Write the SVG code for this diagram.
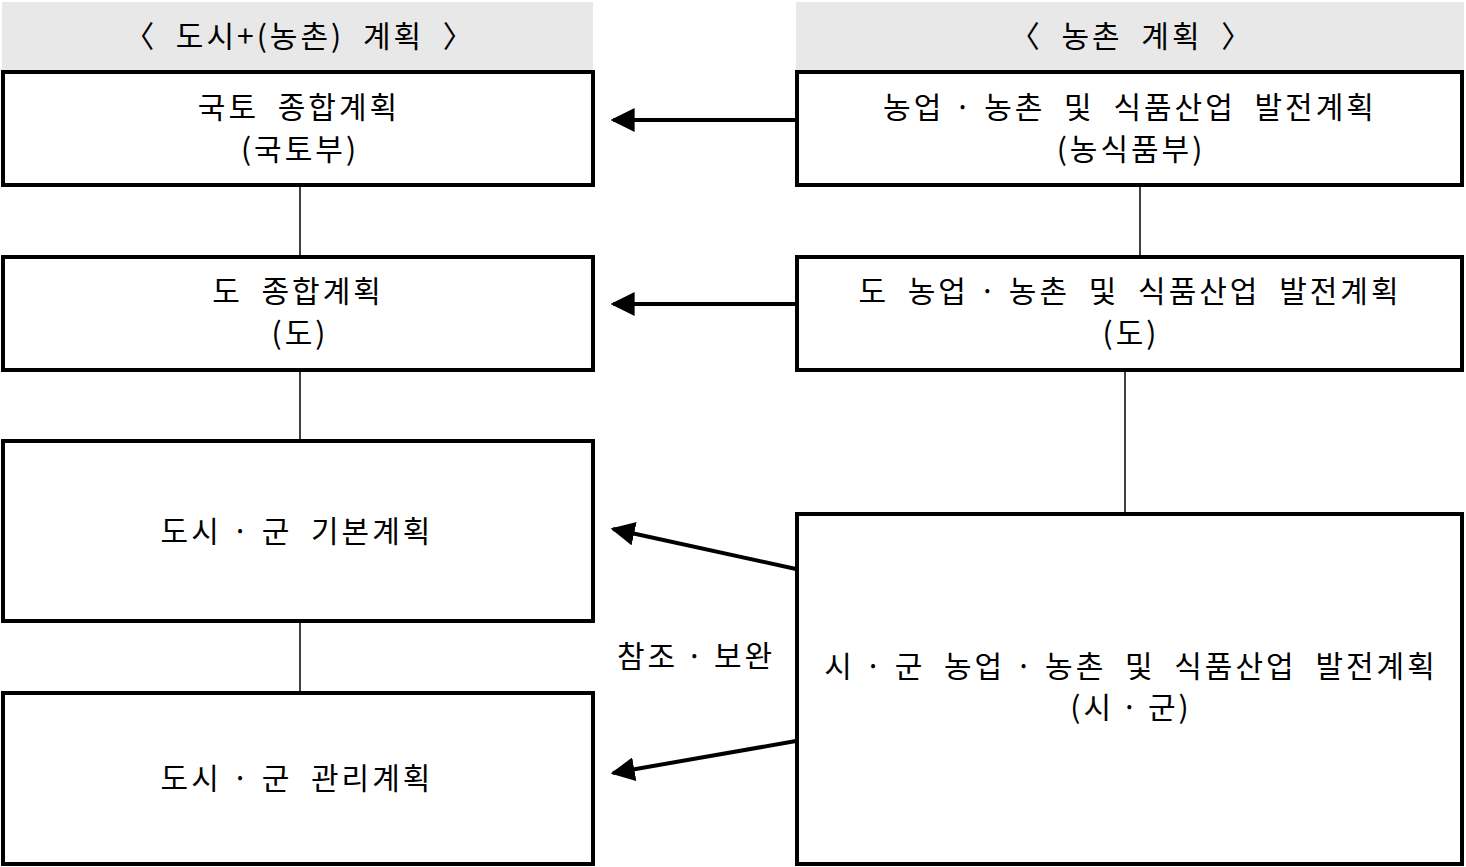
<svg xmlns="http://www.w3.org/2000/svg" width="1466" height="867" viewBox="0 0 1466 867">
<style>
.hdr{fill:#e8e8e8;stroke:none}
.box{fill:#fff;stroke:#000;stroke-width:4}
.t{font-family:"Noto Sans CJK KR","Noto Sans",sans-serif;font-size:30px;fill:#000;text-anchor:middle;letter-spacing:3px;word-spacing:9px}
.thin{stroke:#000;stroke-width:1.5;fill:none}
.arr{stroke:#000;stroke-width:4;fill:none;marker-end:url(#ah)}
</style>
<defs>
<marker id="ah" viewBox="0 0 10 10" refX="9" refY="5" markerWidth="6" markerHeight="6" markerUnits="strokeWidth" orient="auto">
<path d="M0,0 L10,5 L0,10 z" fill="#000"/>
</marker>
</defs>
<rect width="1466" height="867" fill="#fff"/>
<g id="hdr-left"><rect class="hdr" x="2" y="2" width="591" height="68"/><text class="t" x="300" y="47">〈 도시+(농촌) 계획 〉</text></g>
<g id="hdr-right"><rect class="hdr" x="796" y="2" width="668" height="68"/><text class="t" x="1132" y="47">〈 농촌 계획 〉</text></g>
<g id="connectors">
<line class="thin" x1="300" y1="185" x2="300" y2="256"/>
<line class="thin" x1="300" y1="370" x2="300" y2="440"/>
<line class="thin" x1="300" y1="621" x2="300" y2="692"/>
<line class="thin" x1="1140" y1="185" x2="1140" y2="256"/>
<line class="thin" x1="1125" y1="370" x2="1125" y2="513"/>
<line class="arr" x1="796" y1="120" x2="613" y2="120"/>
<line class="arr" x1="796" y1="304" x2="613" y2="304"/>
<line class="arr" x1="796" y1="569" x2="613" y2="529"/>
<line class="arr" x1="796" y1="741" x2="613" y2="773"/>
<text class="t" x="696" y="667">참조<tspan dx="8">·</tspan><tspan dx="8">보완</tspan></text>
</g>
<g id="n1"><rect class="box" x="3" y="72" width="590" height="113"/><text class="t" x="299" y="118">국토 종합계획</text><text class="t" x="300" y="160">(국토부)</text></g>
<g id="n2"><rect class="box" x="3" y="257" width="590" height="113"/><text class="t" x="298" y="302">도 종합계획</text><text class="t" x="300" y="344">(도)</text></g>
<g id="n3"><rect class="box" x="3" y="441" width="590" height="180"/><text class="t" x="297" y="542">도시<tspan dx="10">·</tspan><tspan dx="10">군</tspan> 기본계획</text></g>
<g id="n4"><rect class="box" x="3" y="693" width="590" height="171"/><text class="t" x="297" y="789">도시<tspan dx="10">·</tspan><tspan dx="10">군</tspan> 관리계획</text></g>
<g id="r1"><rect class="box" x="797" y="72" width="665" height="113"/><text class="t" x="1130" y="118">농업<tspan dx="10">·</tspan><tspan dx="10">농촌</tspan> 및 식품산업 발전계획</text><text class="t" x="1131" y="160">(농식품부)</text></g>
<g id="r2"><rect class="box" x="797" y="257" width="665" height="113"/><text class="t" x="1130" y="302">도 농업<tspan dx="10">·</tspan><tspan dx="10">농촌</tspan> 및 식품산업 발전계획</text><text class="t" x="1131" y="344">(도)</text></g>
<g id="r3"><rect class="box" x="797" y="514" width="665" height="350"/><text class="t" x="1131" y="677">시<tspan dx="10">·</tspan><tspan dx="10">군</tspan> 농업<tspan dx="10">·</tspan><tspan dx="10">농촌</tspan> 및 식품산업 발전계획</text><text class="t" x="1131" y="718">(시<tspan dx="7">·</tspan><tspan dx="7">군)</tspan></text></g>
</svg>
